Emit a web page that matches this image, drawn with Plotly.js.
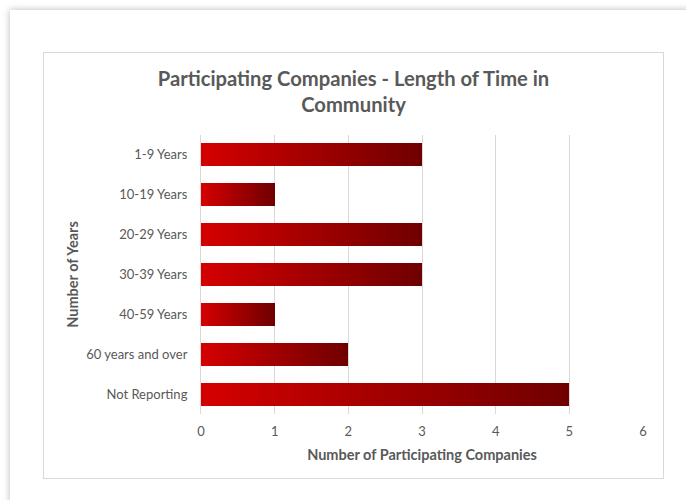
<!DOCTYPE html>
<html>
<head>
<meta charset="utf-8">
<script src="https://cdn.plot.ly/plotly-3.0.1.min.js"></script>
<style>
  html, body { margin: 0; padding: 0; background: #ffffff; width: 686px; height: 500px; overflow: hidden; }
  #outer { position: absolute; left: 10px; top: 10px; width: 700px; height: 520px; background: #ffffff;
           box-shadow: 0 0 7px rgba(0,0,0,0.28); }
  #inner { position: absolute; left: 43px; top: 52px; width: 619px; height: 425px; border: 1px solid #d9d9d9; background: #ffffff; }
  #chart { position: absolute; left: 0; top: 0; width: 686px; height: 500px; }
</style>
</head>
<body>
<div id="outer"></div>
<div id="inner"></div>
<div id="chart"></div>
<script>
// Data
const categories = ["1-9 Years", "10-19 Years", "20-29 Years", "30-39 Years", "40-59 Years", "60 years and over", "Not Reporting"];
const companies = [3, 1, 3, 3, 1, 2, 5];
const xTicks = [0, 1, 2, 3, 4, 5, 6];

// Gradient rendering: each bar is drawn as stacked slices of its own value,
// coloured from bright red (left) to dark red (right), like the Excel gradient fill.
const SLICES = 48;
const cStart = [212, 0, 0];
const cEnd = [112, 0, 0];
function mix(t) {
  const c = cStart.map((s, i) => Math.round(s + (cEnd[i] - s) * t));
  return `rgb(${c[0]},${c[1]},${c[2]})`;
}
const traces = [];
for (let k = 0; k < SLICES; k++) {
  traces.push({
    type: 'bar',
    orientation: 'h',
    y: categories,
    x: companies.map(v => v / SLICES),
    marker: { color: mix(k / (SLICES - 1)), line: { width: 0 } },
    width: 0.58,
    hoverinfo: 'skip',
    showlegend: false
  });
}

const font = "Lato, 'Open Sans', sans-serif";
const layout = {
  width: 686, height: 500,
  paper_bgcolor: 'rgba(0,0,0,0)',
  plot_bgcolor: 'rgba(0,0,0,0)',
  barmode: 'stack',
  bargap: 0.42,
  margin: { l: 201, r: 43, t: 135, b: 86 },
  font: { family: font, color: '#595959', size: 13 },
  title: {
    text: 'Participating Companies - Length of Time in<br>Community',
    font: { family: font, size: 20.2, color: '#595959', weight: 'bold' },
    x: 353.5 / 686, xanchor: 'center', xref: 'container',
    y: 1 - 86 / 500, yanchor: 'top', yref: 'container'
  },
  xaxis: {
    range: [0, 6],
    tickvals: xTicks,
    ticktext: xTicks.map(String),
    showgrid: true, gridcolor: '#d9d9d9', gridwidth: 1,
    zeroline: false, showline: false, ticks: '',
    ticklabelstandoff: 8,
    tickfont: { family: font, size: 13, color: '#595959' },
    title: { text: 'Number of Participating Companies', standoff: 11,
             font: { family: font, size: 14.5, color: '#595959', weight: 'bold' } },
    automargin: false, fixedrange: true
  },
  yaxis: {
    categoryorder: 'array', categoryarray: categories.slice().reverse(),
    autorange: false, range: [-0.5, categories.length - 0.5],
    showgrid: false, zeroline: false,
    showline: true, linecolor: '#d9d9d9', linewidth: 1,
    ticks: '', ticklabelstandoff: 10,
    tickfont: { family: font, size: 13, color: '#595959' },
    title: { text: 'Number of Years', standoff: 4,
             font: { family: font, size: 14.5, color: '#595959', weight: 'bold' } },
    automargin: false, fixedrange: true
  }
};

Plotly.newPlot('chart', traces, layout, { displayModeBar: false, staticPlot: true });
</script>
</body>
</html>
